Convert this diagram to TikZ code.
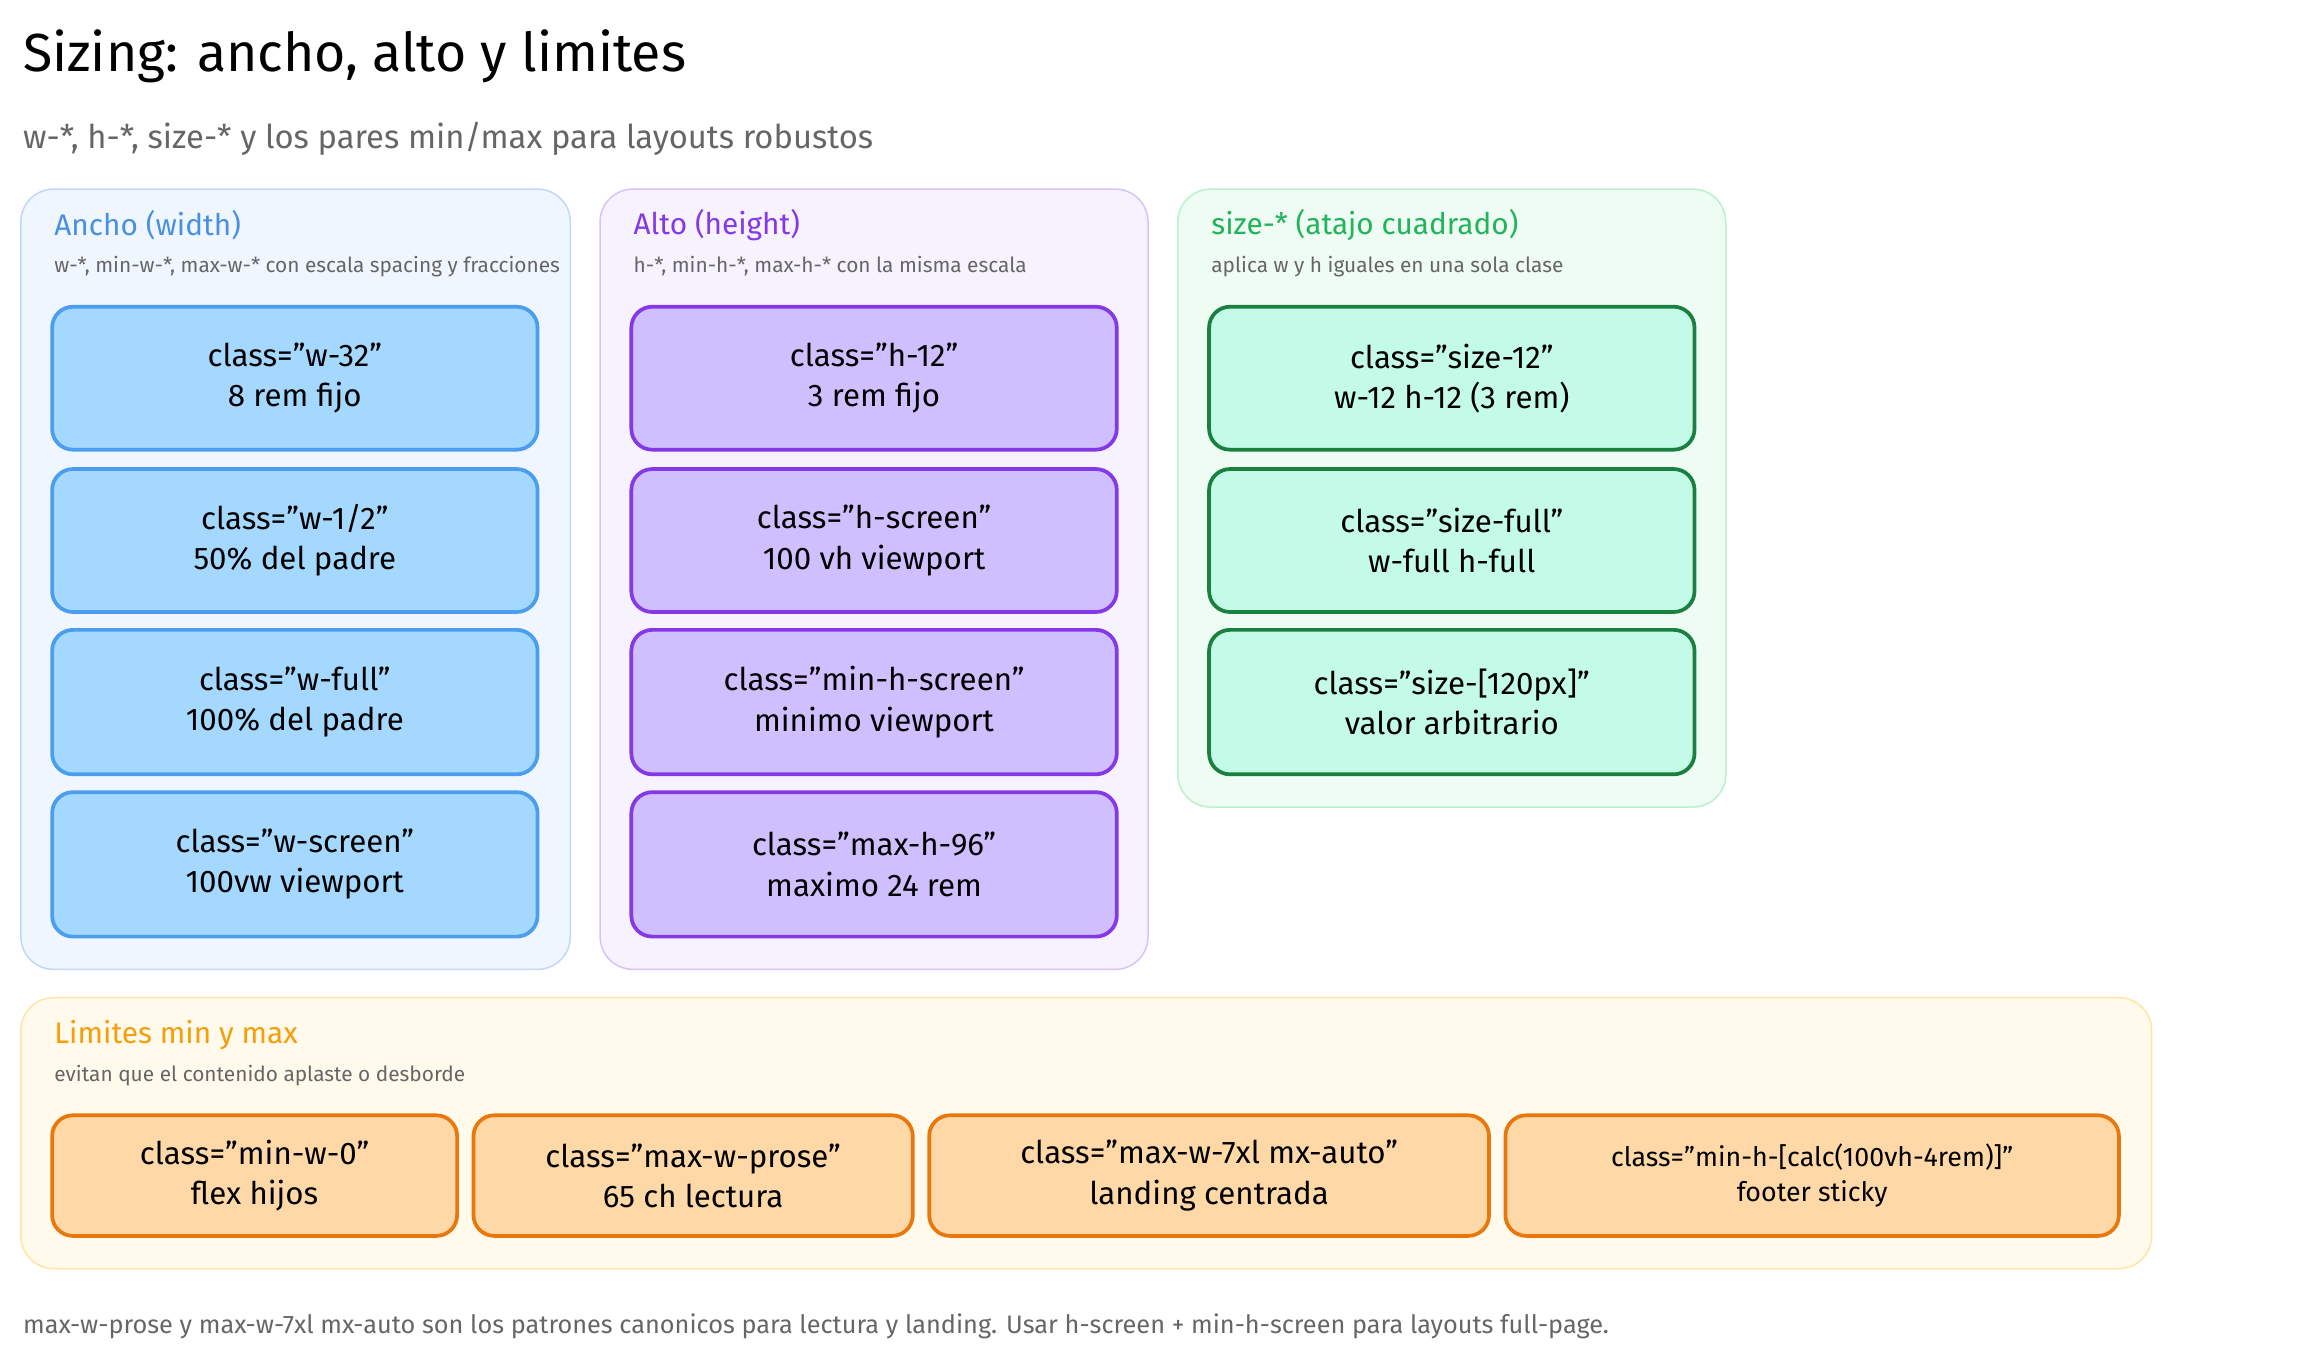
\documentclass[tikz,border=0pt]{standalone}
\usepackage{fontspec}
\setmainfont{Fira Sans}
\begin{document}
\begin{tikzpicture}[x=1pt,y=-1pt,
 panel/.style={rounded corners=22pt,line width=1pt},
 box/.style={rounded corners=14pt,line width=2.5pt,align=center,font=\fontsize{21}{27}\selectfont},
 ptitle/.style={anchor=west,font=\fontsize{20}{24}\selectfont},
 psub/.style={anchor=west,font=\fontsize{14}{17}\selectfont,text=black!60},
 bb/.style={box,fill=blue!0!white,fill={rgb,255:red,165;green,216;blue,255},draw={rgb,255:red,74;green,158;blue,237}},
 vb/.style={box,fill={rgb,255:red,208;green,191;blue,255},draw={rgb,255:red,132;green,56;blue,230}},
 gb/.style={box,fill={rgb,255:red,195;green,250;blue,232},draw={rgb,255:red,26;green,128;blue,64}},
 ob/.style={box,fill={rgb,255:red,255;green,216;blue,168},draw={rgb,255:red,232;green,120;blue,12}}]
\useasboundingbox (0,0) rectangle (1550,907);
\node[anchor=west,font=\fontsize{36}{40}\selectfont] (title) at (12,38) {Sizing: ancho, alto y limites};
\node[anchor=west,font=\fontsize{22}{26}\selectfont,text=black!60] (sub) at (12,93) {w-*, h-*, size-* y los pares min/max para layouts robustos};
% panels
\draw[panel,fill={rgb,255:red,240;green,246;blue,255},draw={rgb,255:red,190;green,215;blue,250}] (14,127) rectangle (383,651);
\draw[panel,fill={rgb,255:red,246;green,242;blue,255},draw={rgb,255:red,215;green,195;blue,250}] (403,127) rectangle (771,651);
\draw[panel,fill={rgb,255:red,239;green,252;blue,244},draw={rgb,255:red,185;green,240;blue,205}] (791,127) rectangle (1159,542);
\draw[panel,fill={rgb,255:red,255;green,250;blue,235},draw={rgb,255:red,255;green,228;blue,165}] (14,670) rectangle (1445,852);
\node[ptitle,text={rgb,255:red,74;green,144;blue,226}] (t1) at (33,151) {Ancho (width)};
\node[psub] (s1) at (33,179) {w-*, min-w-*, max-w-* con escala spacing y fracciones};
\node[ptitle,text={rgb,255:red,132;green,56;blue,230}] (t2) at (422,151) {Alto (height)};
\node[psub] (s2) at (422,179) {h-*, min-h-*, max-h-* con la misma escala};
\node[ptitle,text={rgb,255:red,34;green,180;blue,90}] (t3) at (810,151) {size-* (atajo cuadrado)};
\node[psub] (s3) at (810,179) {aplica w y h iguales en una sola clase};
\node[ptitle,text={rgb,255:red,245;green,158;blue,11}] (t4) at (33,695) {Limites min y max};
\node[psub] (s4) at (33,722) {evitan que el contenido aplaste o desborde};
% boxes
\newcommand{\bx}[7]{\draw[#1] (#2,#3) rectangle (#4,#5); \node[#1,draw=none,fill=none] (#6) at ({(#2+#4)/2},{(#3+#5)/2}) {#7};}
\bx{bb}{35}{206}{361}{302}{a1}{class="w-32"\\8 rem fijo}
\bx{bb}{35}{315}{361}{411}{a2}{class="w-1/2"\\50\% del padre}
\bx{bb}{35}{423}{361}{520}{a3}{class="w-full"\\100\% del padre}
\bx{bb}{35}{532}{361}{629}{a4}{class="w-screen"\\100vw viewport}
\bx{vb}{424}{206}{750}{302}{b1}{class="h-12"\\3 rem fijo}
\bx{vb}{424}{315}{750}{411}{b2}{class="h-screen"\\100 vh viewport}
\bx{vb}{424}{423}{750}{520}{b3}{class="min-h-screen"\\minimo viewport}
\bx{vb}{424}{532}{750}{629}{b4}{class="max-h-96"\\maximo 24 rem}
\bx{gb}{812}{206}{1138}{302}{c1}{class="size-12"\\w-12 h-12 (3 rem)}
\bx{gb}{812}{315}{1138}{411}{c2}{class="size-full"\\w-full h-full}
\bx{gb}{812}{423}{1138}{520}{c3}{class="size-[120px]"\\valor arbitrario}
\bx{ob}{35}{749}{307}{830}{d1}{class="min-w-0"\\flex hijos}
\bx{ob}{318}{749}{613}{830}{d2}{class="max-w-prose"\\65 ch lectura}
\bx{ob}{624}{749}{1000}{830}{d3}{class="max-w-7xl mx-auto"\\landing centrada}
\bx{ob,font=\fontsize{18}{24}\selectfont}{1011}{749}{1423}{830}{d4}{class="min-h-[calc(100vh-4rem)]"\\footer sticky}
\node[anchor=west,font=\fontsize{17}{20}\selectfont,text=black!60] (foot) at (12,891) {max-w-prose y max-w-7xl mx-auto son los patrones canonicos para lectura y landing. Usar h-screen + min-h-screen para layouts full-page.};
\end{tikzpicture}
\end{document}
